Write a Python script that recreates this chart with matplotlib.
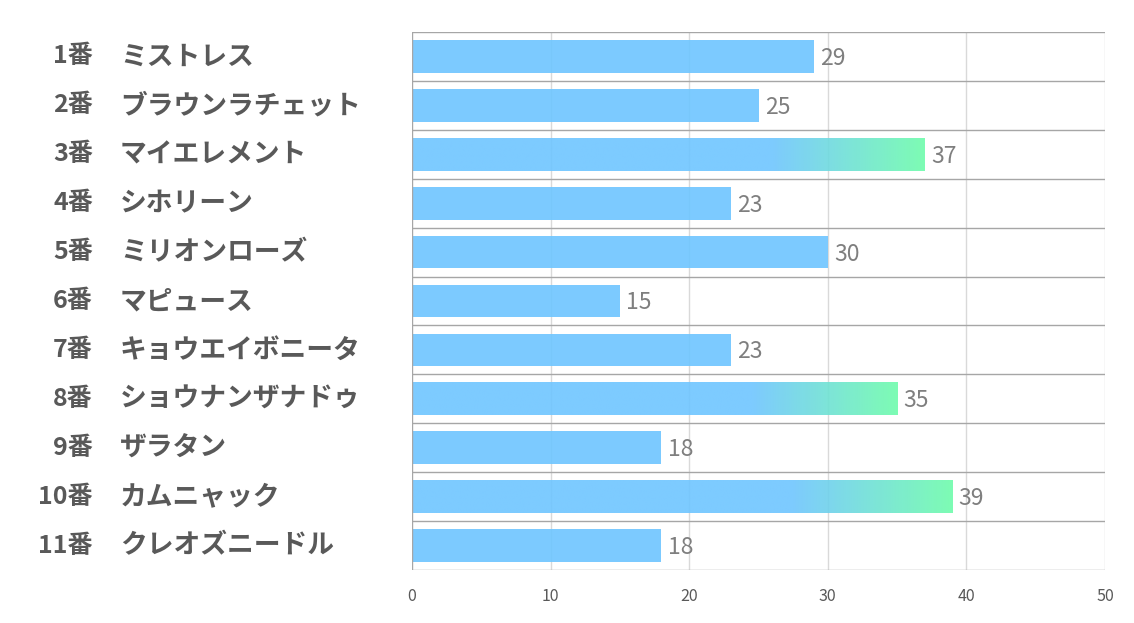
import numpy as np
import matplotlib
matplotlib.use("Agg")
import matplotlib.pyplot as plt
from matplotlib.colors import LinearSegmentedColormap
from matplotlib.transforms import blended_transform_factory

plt.rcParams['font.family'] = ['Noto Sans CJK JP', 'DejaVu Sans']

numbers = ["1番", "2番", "3番", "4番", "5番", "6番", "7番", "8番", "9番", "10番", "11番"]
names = ["ミストレス", "ブラウンラチェット", "マイエレメント", "シホリーン", "ミリオンローズ",
         "マピュース", "キョウエイボニータ", "ショウナンザナドゥ", "ザラタン", "カムニャック",
         "クレオズニードル"]
values = [29, 25, 37, 23, 30, 15, 23, 35, 18, 39, 18]
xticks = [0, 10, 20, 30, 40, 50]

blue = "#6ec5ff"
green = "#6efcac"
cmap = LinearSegmentedColormap.from_list("bg", [blue, green])

fig = plt.figure(figsize=(11.34, 6.23), dpi=100)
ax = fig.add_axes([412/1134, 1-570/623, (1105-412)/1134, (570-32)/623])

n = len(values)
y = np.arange(n)
ax.set_xlim(0, 50)
ax.set_ylim(n - 0.5, -0.5)

# grid
for xv in xticks[1:]:
    ax.axvline(xv, color="#d9d9d9", lw=1, zorder=0)
for k in range(n + 1):
    ax.axhline(k - 0.5, color="#a6a6a6", lw=1, zorder=0)
ax.axvline(0, color="#a6a6a6", lw=1, zorder=3)

top3 = sorted(values, reverse=True)[2]
h = 0.67
bars = ax.barh(y, values, height=h, color=blue, alpha=0.9, zorder=2, edgecolor="none")
for b, v in zip(bars, values):
    if v >= top3:
        b.set_facecolor("none")
        xs = np.linspace(0, 1, 400)
        g = np.clip((xs - 0.7) / 0.3, 0, 1)[None, :]
        yc = b.get_y()
        im = ax.imshow(g, cmap=cmap, vmin=0, vmax=1, aspect="auto",
                       extent=(0, v, yc + h, yc), zorder=2.1, alpha=0.9,
                       interpolation="bilinear")
        im.set_clip_path(b)
    ax.text(v + 0.45, b.get_y() + h/2 + 0.04, str(v), va="center", ha="left",
            fontsize=16.5, color="#7f7f7f", zorder=4)

for s in ax.spines.values():
    s.set_visible(False)
ax.set_xticks(xticks)
ax.set_xticklabels([str(t) for t in xticks], fontsize=11.5, color="#595959")
ax.tick_params(axis="x", length=0, pad=13)
ax.set_yticks([])
ax.set_xlim(0, 50)

tr = blended_transform_factory(fig.transFigure, ax.transData)
for i in range(n):
    ax.text(93/1134, i, numbers[i], transform=tr, ha="right", va="center",
            fontsize=18, fontweight="bold", color="#595959")
    ax.text(120/1134, i, names[i], transform=tr, ha="left", va="center",
            fontsize=19.3, fontweight="bold", color="#595959")

fig.savefig("out.png", dpi=100)
